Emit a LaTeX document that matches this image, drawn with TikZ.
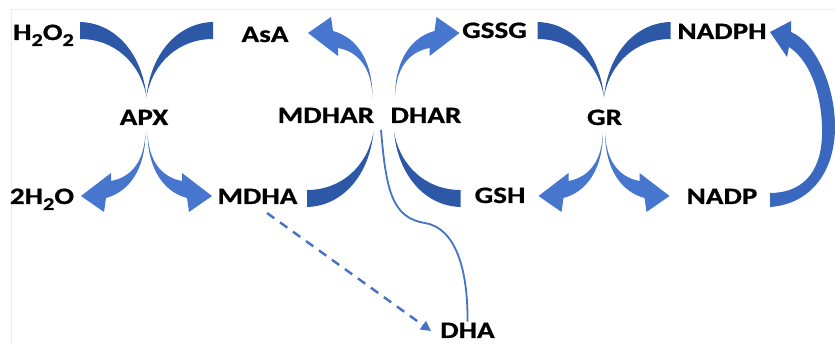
\documentclass[tikz,border=0pt]{standalone}
\usepackage{fontspec}
\setmainfont{Carlito}[FakeStretch=1.24,BoldFeatures={FakeBold=0.8}]
\usepackage{tikz}
\usetikzlibrary{arrows.meta}

\definecolor{taildark}{RGB}{45,88,168}
\definecolor{headblue}{RGB}{70,118,205}
\definecolor{bigblue}{RGB}{58,104,190}
\definecolor{linkblue}{RGB}{68,114,196}
\definecolor{framegray}{RGB}{236,236,236}

\newcommand\chemsub[1]{\raisebox{-6pt}{\fontsize{18}{18}\selectfont #1}}

% tapered tail and curved arrow head, drawn round the meeting point
\tikzset{
  pics/tail/.style={code={
    \fill[tailfill] (-66.5,-93) .. controls (-30,-92) and (-4,-60) .. (0,-18)
      .. controls (-6,-52) and (-32,-76) .. (-66.5,-76) -- cycle;
  }},
  pics/head/.style={code={
    \fill[headfill] (-1,17) .. controls (-2,45) and (-14,62) .. (-35.5,66)
      -- (-35.5,58) -- (-65.5,81) -- (-42.5,97) -- (-40.5,83)
      .. controls (-18,77) and (-1,55) .. (-1,17) -- cycle;
  }},
}

\begin{document}
\begin{tikzpicture}[x=1pt,y=-1pt]
  \tikzstyle{lbl}=[anchor=base,inner sep=1pt,font=\fontsize{23.5}{28}\selectfont\bfseries]
  \tikzstyle{tailfill}=[fill=taildark]
  \tikzstyle{headfill}=[fill=headblue]
  \tikzstyle{link}=[draw=linkblue,line width=1.8pt]
  \tikzstyle{dashlink}=[draw=linkblue,line width=2.4pt,dash pattern=on 9pt off 7pt,-{Triangle[length=10pt,width=10pt]}]

  \useasboundingbox (0,0) rectangle (835,344);
  \draw[framegray,line width=1pt] (11,344) |- (835,10);

  % labels
  \node[lbl] (h2o2) at (43.5,40) {H\chemsub{2}O\chemsub{2}};
  \node[lbl] (asa) at (265,42) {AsA};
  \node[lbl] (gssg) at (494.5,38) {GSSG};
  \node[lbl] (nadph) at (722,39) {NADPH};
  \node[lbl] (apx) at (144,125) {APX};
  \node[lbl] (mdhar) at (326,123) {MDHAR};
  \node[lbl] (dhar) at (426,123) {DHAR};
  \node[lbl] (gr) at (604.5,125) {GR};
  \node[lbl] (h2o) at (42,204) {2H\chemsub{2}O};
  \node[lbl] (mdha) at (257.5,204) {MDHA};
  \node[lbl] (gsh) at (500,203) {GSH};
  \node[lbl] (nadp) at (722,204) {NADP};
  \node[lbl] (dha) at (467.5,338) {DHA};

  % APX
  \pic at (146.5,115) {tail};
  \pic[xscale=-1] at (146.5,115) {tail};
  \pic at (146.5,115) {head};
  \pic[xscale=-1] at (146.5,115) {head};

  % MDHAR and DHAR
  \pic[yscale=-1] at (373.5,114) {head};
  \pic[yscale=-1] at (373.5,114) {tail};
  \pic[xscale=-1,yscale=-1] at (394,114) {head};
  \pic[xscale=-1,yscale=-1] at (394,114) {tail};

  % GR
  \pic at (604,115) {tail};
  \pic[xscale=-1] at (604,115) {tail};
  \pic at (604,115) {head};
  \pic[xscale=-1] at (604,115) {head};

  % NADP back to NADPH
  \fill[bigblue] (770,207) .. controls (812,204) and (835,170) .. (835,127)
    .. controls (835,85) and (815,42) .. (791,32)
    -- (791,21) -- (770,32) -- (787,57) -- (789,47)
    .. controls (812,62) and (823,100) .. (822,135)
    .. controls (821,175) and (800,193) .. (770,193) -- cycle;

  % MDHAR to DHA, MDHA to DHA
  \coordinate (mdharfoot) at (381,130);
  \draw[link] (mdharfoot) .. controls (386,190) and (392,218) .. (425,223)
    .. controls (455,228) and (468,268) .. (dha.north);
  \coordinate (dashstart) at (267,213);
  \coordinate (dashend) at (431,331);
  \draw[dashlink] (dashstart) -- (dashend);
\end{tikzpicture}
\end{document}
